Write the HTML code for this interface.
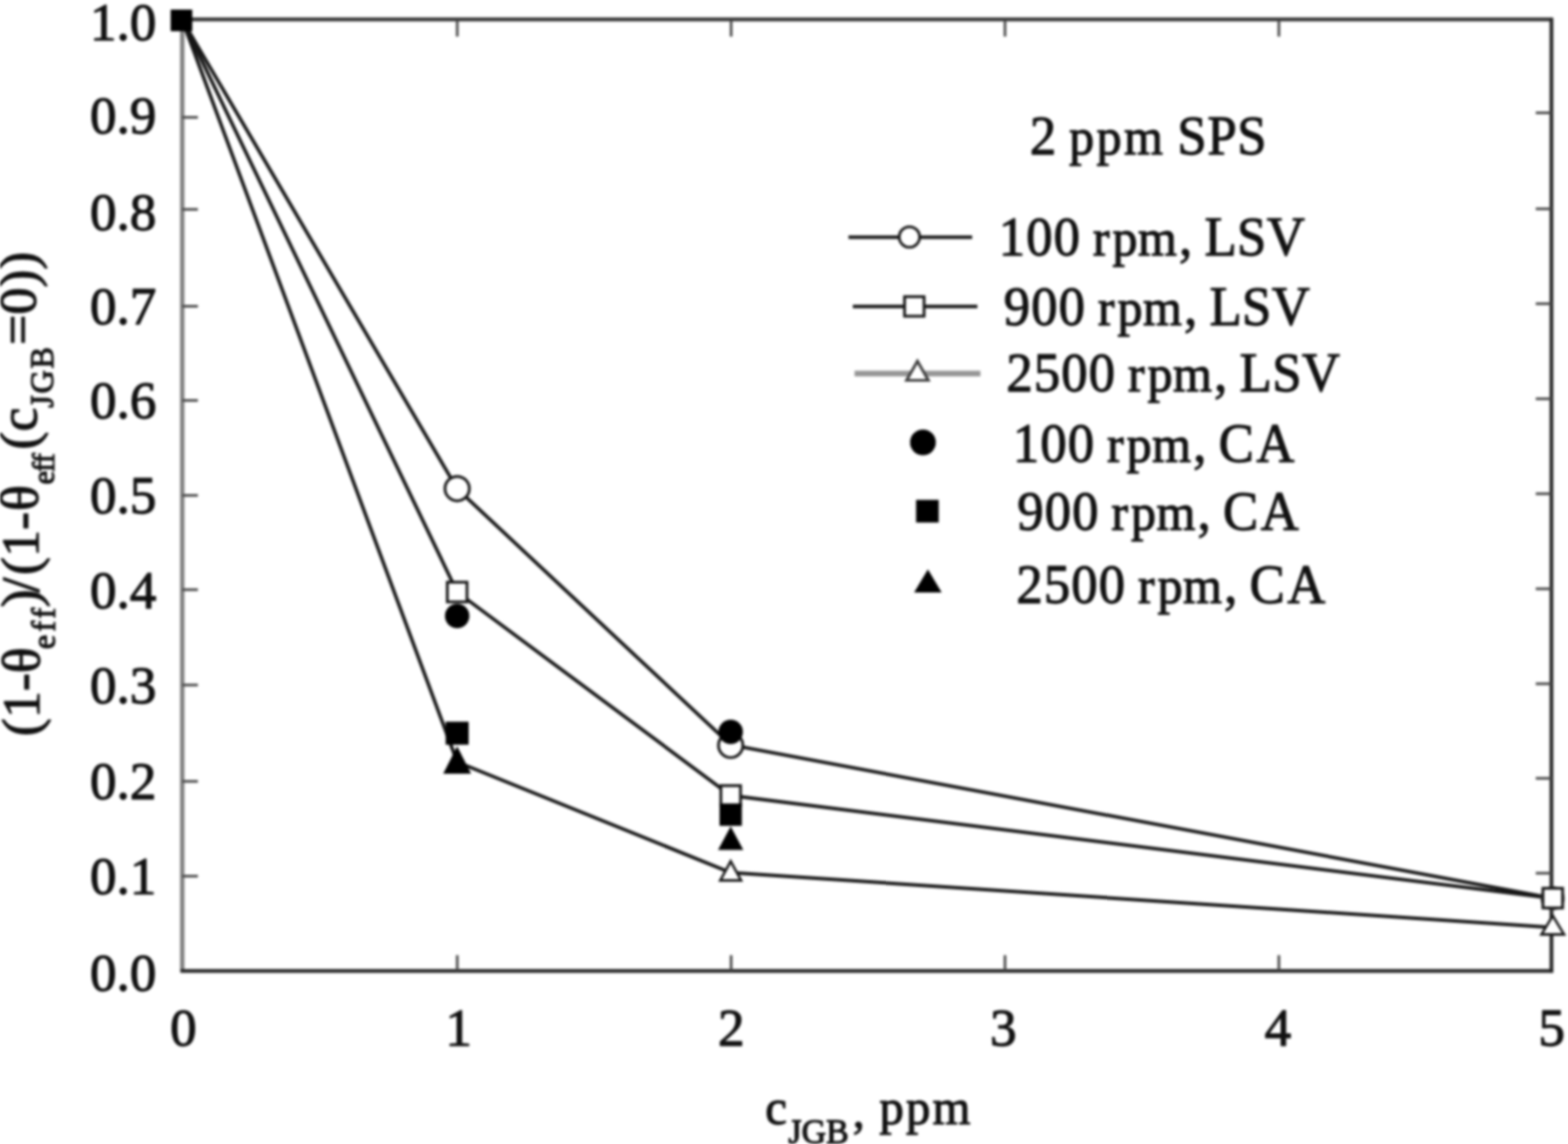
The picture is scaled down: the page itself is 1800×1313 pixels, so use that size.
<!DOCTYPE html>
<html lang="en">
<head>
<meta charset="utf-8">
<title>Figure</title>
<style>
html,body{margin:0;padding:0;background:#fff;}
body{width:1800px;height:1313px;overflow:hidden;}
svg{display:block;filter:blur(1.8px);}
svg text{font-family:"Liberation Serif","DejaVu Serif",serif;fill:#111;stroke:#111;stroke-width:1.3px;stroke-linejoin:round;}
</style>
</head>
<body>
<svg width="1800" height="1313" viewBox="0 0 1800 1313">
<rect x="-20" y="-20" width="1840" height="1353" fill="#fff"/>
<g id="plot">
<line x1="209.2" y1="22.0" x2="209.2" y2="1116.1" stroke="#808080" stroke-width="5"/>
<line x1="207.2" y1="22.3" x2="1783.0" y2="22.3" stroke="#3a3a3a" stroke-width="4.4"/>
<line x1="1781.0" y1="21" x2="1781.0" y2="1116.3" stroke="#2a2a2a" stroke-width="4.4"/>
<line x1="207.2" y1="1114.3" x2="1783.0" y2="1114.3" stroke="#242424" stroke-width="4.2"/>
<line x1="524.9" y1="23.0" x2="524.9" y2="42.0" stroke="#484848" stroke-width="3"/>
<line x1="524.9" y1="1114.3" x2="524.9" y2="1096.3" stroke="#484848" stroke-width="3"/>
<line x1="839.3" y1="23.0" x2="839.3" y2="42.0" stroke="#484848" stroke-width="3"/>
<line x1="839.3" y1="1114.3" x2="839.3" y2="1096.3" stroke="#484848" stroke-width="3"/>
<line x1="1153.7" y1="23.0" x2="1153.7" y2="42.0" stroke="#484848" stroke-width="3"/>
<line x1="1153.7" y1="1114.3" x2="1153.7" y2="1096.3" stroke="#484848" stroke-width="3"/>
<line x1="1468.1" y1="23.0" x2="1468.1" y2="42.0" stroke="#484848" stroke-width="3"/>
<line x1="1468.1" y1="1114.3" x2="1468.1" y2="1096.3" stroke="#484848" stroke-width="3"/>
<line x1="209.2" y1="1005.6" x2="227.2" y2="1005.6" stroke="#484848" stroke-width="3"/>
<line x1="1781.0" y1="1002.2" x2="1763.0" y2="1002.2" stroke="#484848" stroke-width="3"/>
<line x1="209.2" y1="896.8" x2="227.2" y2="896.8" stroke="#484848" stroke-width="3"/>
<line x1="1781.0" y1="893.3" x2="1763.0" y2="893.3" stroke="#484848" stroke-width="3"/>
<line x1="209.2" y1="786.2" x2="227.2" y2="786.2" stroke="#484848" stroke-width="3"/>
<line x1="1781.0" y1="784.8" x2="1763.0" y2="784.8" stroke="#484848" stroke-width="3"/>
<line x1="209.2" y1="676.8" x2="227.2" y2="676.8" stroke="#484848" stroke-width="3"/>
<line x1="1781.0" y1="675.8" x2="1763.0" y2="675.8" stroke="#484848" stroke-width="3"/>
<line x1="209.2" y1="568.6" x2="227.2" y2="568.6" stroke="#484848" stroke-width="3"/>
<line x1="1781.0" y1="566.7" x2="1763.0" y2="566.7" stroke="#484848" stroke-width="3"/>
<line x1="209.2" y1="459.6" x2="227.2" y2="459.6" stroke="#484848" stroke-width="3"/>
<line x1="1781.0" y1="457.7" x2="1763.0" y2="457.7" stroke="#484848" stroke-width="3"/>
<line x1="209.2" y1="351.5" x2="227.2" y2="351.5" stroke="#484848" stroke-width="3"/>
<line x1="1781.0" y1="348.6" x2="1763.0" y2="348.6" stroke="#484848" stroke-width="3"/>
<line x1="209.2" y1="240.3" x2="227.2" y2="240.3" stroke="#484848" stroke-width="3"/>
<line x1="1781.0" y1="239.7" x2="1763.0" y2="239.7" stroke="#484848" stroke-width="3"/>
<line x1="209.2" y1="134.7" x2="227.2" y2="134.7" stroke="#484848" stroke-width="3"/>
<line x1="1781.0" y1="129.5" x2="1763.0" y2="129.5" stroke="#484848" stroke-width="3"/>
<polyline fill="none" stroke="#161616" stroke-width="4.0" points="209.3,23 524.8,561 838.8,855 1782.5,1031"/>
<polyline fill="none" stroke="#161616" stroke-width="4.0" points="209.3,23 524.8,679.5 838.8,913 1782.5,1031"/>
<polyline fill="none" stroke="#161616" stroke-width="4.0" points="209.3,23 524.8,874.5 838.8,1001.5 1782.5,1064.5"/>
<circle cx="524.8" cy="560.8" r="14" fill="#fff" stroke="#161616" stroke-width="3.2"/>
<circle cx="838.8" cy="855.5" r="14" fill="#fff" stroke="#161616" stroke-width="3.2"/>
<circle cx="1782.3" cy="1031" r="12.6" fill="#fff" stroke="#444" stroke-width="2.6"/>
<rect x="513.5" y="668.2" width="22.6" height="22.6" fill="#fff" stroke="#161616" stroke-width="3.2"/>
<rect x="827.5" y="901.7" width="22.6" height="22.6" fill="#fff" stroke="#161616" stroke-width="3.2"/>
<rect x="1771.2" y="1019.5" width="22.6" height="22.6" fill="#fff" stroke="#161616" stroke-width="3.2"/>
<polygon points="838.8,988.5 850.8,1010.5 826.8,1010.5" fill="#fff" stroke="#161616" stroke-width="2.8" stroke-linejoin="miter"/>
<polygon points="1782.5,1051 1795.5,1072.5 1769.5,1072.5" fill="#fff" stroke="#161616" stroke-width="2.8" stroke-linejoin="miter"/>
<circle cx="524.8" cy="707" r="14" fill="#000"/>
<circle cx="838.8" cy="840" r="14" fill="#000"/>
<rect x="511.59999999999997" y="828.3" width="26.4" height="26.4" fill="#000"/>
<rect x="826.0" y="922.2" width="25.6" height="25.6" fill="#000"/>
<polygon points="524.8,856.5 540.8,888 508.79999999999995,888" fill="#000"/>
<polygon points="838.8,948.5 853.3,975.5 824.3,975.5" fill="#000"/>
<rect x="195.9" y="10.999999999999998" width="24.8" height="24.8" fill="#000"/>
<line x1="974" y1="272.3" x2="1116" y2="272.3" stroke="#161616" stroke-width="4.0"/>
<circle cx="1044" cy="272" r="11.8" fill="#fff" stroke="#161616" stroke-width="3"/>
<line x1="979" y1="351.7" x2="1122" y2="351.7" stroke="#161616" stroke-width="4.0"/>
<rect x="1038.3999999999999" y="340.5" width="22.4" height="22.4" fill="#fff" stroke="#161616" stroke-width="3.2"/>
<line x1="981" y1="428.8" x2="1125.5" y2="428.8" stroke="#969696" stroke-width="6.5"/>
<polygon points="1053.2,414.5 1065.7,436.5 1040.7,436.5" fill="#fff" stroke="#3a3a3a" stroke-width="3.2" stroke-linejoin="miter"/>
<circle cx="1059.5" cy="507.7" r="14.8" fill="#000"/>
<rect x="1051.6" y="573.7" width="26" height="26" fill="#000"/>
<polygon points="1065.2,653.5 1081.0,680 1049.4,680" fill="#000"/>
</g>
<g id="labels">
<text transform="translate(1182.2,177) scale(0.96,1)" x="0 32.81 46.88 79.69 112.5 162.19 176.25 212.34 247.97" y="0" font-size="63" xml:space="preserve">2 <tspan font-size="60">ppm</tspan> SPS</text>
<text transform="translate(1146.4,293.4) scale(0.96,1)" x="0 32.81 65.62 98.44 112.5 135.94 166.41 215.62 232.03 246.09 285 320.62" y="0" font-size="63" xml:space="preserve">100 <tspan font-size="60">rpm</tspan>, LSV</text>
<text transform="translate(1152.2,373.4) scale(0.96,1)" x="0 32.81 65.62 98.44 112.5 135.94 166.41 215.62 232.03 246.09 285 320.62" y="0" font-size="63" xml:space="preserve">900 <tspan font-size="60">rpm</tspan>, LSV</text>
<text transform="translate(1155.3,449.1) scale(0.96,1)" x="0 32.81 65.62 98.44 131.25 145.31 168.75 199.22 248.44 264.84 278.91 317.81 353.44" y="0" font-size="63" xml:space="preserve">2500 <tspan font-size="60">rpm</tspan>, LSV</text>
<text transform="translate(1162.7,530.1) scale(0.96,1)" x="0 32.81 65.62 98.44 112.5 135.94 166.41 215.62 232.03 246.09 291.09" y="0" font-size="63" xml:space="preserve">100 <tspan font-size="60">rpm</tspan>, CA</text>
<text transform="translate(1167.7,608) scale(0.96,1)" x="0 32.81 65.62 98.44 112.5 135.94 166.41 215.62 232.03 246.09 291.09" y="0" font-size="63" xml:space="preserve">900 <tspan font-size="60">rpm</tspan>, CA</text>
<text transform="translate(1166.8,691.8) scale(0.96,1)" x="0 32.81 65.62 98.44 131.25 145.31 168.75 199.22 248.44 264.84 278.91 323.91" y="0" font-size="63" xml:space="preserve">2500 <tspan font-size="60">rpm</tspan>, CA</text>
<text x="179.5" y="1136.6" font-size="61" text-anchor="end">0.0</text>
<text x="179.5" y="1026.1" font-size="61" text-anchor="end">0.1</text>
<text x="179.5" y="916.7" font-size="61" text-anchor="end">0.2</text>
<text x="179.5" y="806.9" font-size="61" text-anchor="end">0.3</text>
<text x="179.5" y="698.0" font-size="61" text-anchor="end">0.4</text>
<text x="179.5" y="588.5" font-size="61" text-anchor="end">0.5</text>
<text x="179.5" y="479.9" font-size="61" text-anchor="end">0.6</text>
<text x="179.5" y="372.2" font-size="61" text-anchor="end">0.7</text>
<text x="179.5" y="263.5" font-size="61" text-anchor="end">0.8</text>
<text x="179.5" y="152.7" font-size="61" text-anchor="end">0.9</text>
<text x="179.5" y="46.3" font-size="61" text-anchor="end">1.0</text>
<text x="210.5" y="1200.3" font-size="61" text-anchor="middle">0</text>
<text x="526.4" y="1200.3" font-size="61" text-anchor="middle">1</text>
<text x="839.5999999999999" y="1200.3" font-size="61" text-anchor="middle">2</text>
<text x="1151.7" y="1200.3" font-size="61" text-anchor="middle">3</text>
<text x="1467.1" y="1200.3" font-size="61" text-anchor="middle">4</text>
<text x="1781.3" y="1200.3" font-size="61" text-anchor="middle">5</text>
<text font-size="56"><tspan x="878.5" y="1290">c</tspan><tspan x="905" y="1312" font-size="39">JGB</tspan><tspan x="979" y="1294" font-size="54">,</tspan><tspan x="1009.5 1040 1070.5" y="1290" font-size="56">ppm</tspan></text>
<text transform="rotate(-90)" font-size="62" style="font-variant-ligatures:none"><tspan x="-845" y="44.5">(1-θ</tspan><tspan x="-745" y="63" font-size="37" letter-spacing="3.5">eff</tspan><tspan x="-697" y="44">)</tspan><tspan x="-680" y="44">/</tspan><tspan x="-660" y="43.5">(1-</tspan><tspan x="-586.5" y="43">θ</tspan><tspan x="-556" y="62" font-size="35" letter-spacing="-1.2">eff</tspan><tspan x="-516" y="42">(c</tspan><tspan x="-468" y="61" font-size="37" letter-spacing="2">JGB</tspan><tspan x="-396" y="40.5">=0))</tspan></text>
</g>
</svg>
</body>
</html>
